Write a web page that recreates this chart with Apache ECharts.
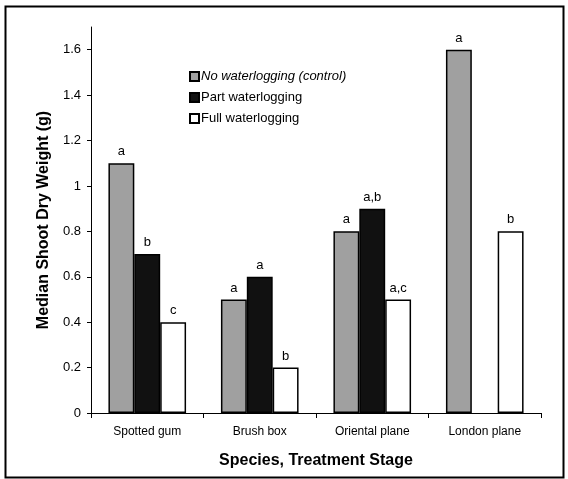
<!DOCTYPE html>
<html><head><meta charset="utf-8">
<script src="https://cdn.jsdelivr.net/npm/echarts@6/dist/echarts.min.js"></script>
<style>html,body{margin:0;padding:0;background:#fff}#c{width:568px;height:479px}</style>
</head><body><div id="c"></div>
<script>
var categories = ['Spotted gum', 'Brush box', 'Oriental plane', 'London plane'];
var seriesNames = ['No waterlogging (control)', 'Part waterlogging', 'Full waterlogging'];
var noWater = [1.1, 0.5, 0.8, 1.6];
var partWater = [0.7, 0.6, 0.9, null];
var fullWater = [0.4, 0.2, 0.5, 0.8];
var noWaterLetters = ['a', 'a', 'a', 'a'];
var partWaterLetters = ['b', 'a', 'a,b', ''];
var fullWaterLetters = ['c', 'b', 'a,c', 'b'];
var yTicks = [0, 0.2, 0.4, 0.6, 0.8, 1, 1.2, 1.4, 1.6];

var font = 'Liberation Sans, Arial, sans-serif';
function mk(name, data, letters, color) {
  return {
    name: name, type: 'bar', data: data,
    barGap: '0%', barCategoryGap: '31%',
    itemStyle: { color: color, borderColor: '#000', borderWidth: 1.5 },
    label: { show: true, position: 'top', distance: 5, color: '#000', fontFamily: font, fontSize: 13,
      formatter: function (p) { return letters[p.dataIndex]; } },
    animation: false
  };
}
var chart = echarts.init(document.getElementById('c'), null, { renderer: 'canvas' });
chart.setOption({
  animation: false,
  backgroundColor: '#fff',
  textStyle: { fontFamily: font, color: '#000' },
  grid: { left: 91, right: 27, top: 27, bottom: 66, containLabel: false },
  legend: {
    orient: 'vertical', left: 184, top: 65, itemWidth: 9, itemHeight: 9, itemGap: 8,
    icon: 'rect',
    data: [
      { name: seriesNames[0], textStyle: { fontStyle: 'italic' } },
      { name: seriesNames[1] },
      { name: seriesNames[2] }
    ],
    textStyle: { fontFamily: font, fontSize: 13, color: '#000', padding: [0, 0, 0, -3] }
  },
  xAxis: {
    type: 'category', data: categories,
    axisLine: { lineStyle: { color: '#000', width: 1 } },
    axisTick: { show: true, inside: false, length: 5, alignWithLabel: false, lineStyle: { color: '#000' } },
    axisLabel: { color: '#000', fontFamily: font, fontSize: 12, margin: 13 },
    name: 'Species, Treatment Stage', nameLocation: 'middle', nameGap: 40,
    nameTextStyle: { fontFamily: font, fontSize: 16, fontWeight: 'bold', color: '#000' }
  },
  yAxis: {
    type: 'value', min: 0, max: 1.7,
    splitLine: { show: false },
    axisLine: { show: true, lineStyle: { color: '#000', width: 1 } },
    axisTick: { show: true, length: 4, customValues: yTicks, lineStyle: { color: '#000' } },
    axisLabel: { color: '#000', fontFamily: font, fontSize: 13, margin: 10, customValues: yTicks },
    name: 'Median Shoot Dry Weight (g)', nameLocation: 'middle', nameGap: 32,
    nameTextStyle: { fontFamily: font, fontSize: 16, fontWeight: 'bold', color: '#000' }
  },
  series: [
    mk(seriesNames[0], noWater, noWaterLetters, '#a0a0a0'),
    mk(seriesNames[1], partWater, partWaterLetters, '#111111'),
    mk(seriesNames[2], fullWater, fullWaterLetters, '#ffffff')
  ],
  graphic: [{
    type: 'rect', shape: { x: 5.5, y: 6.5, width: 558, height: 471 },
    style: { fill: 'none', stroke: '#000', lineWidth: 2 }, silent: true
  }]
});
</script></body></html>
